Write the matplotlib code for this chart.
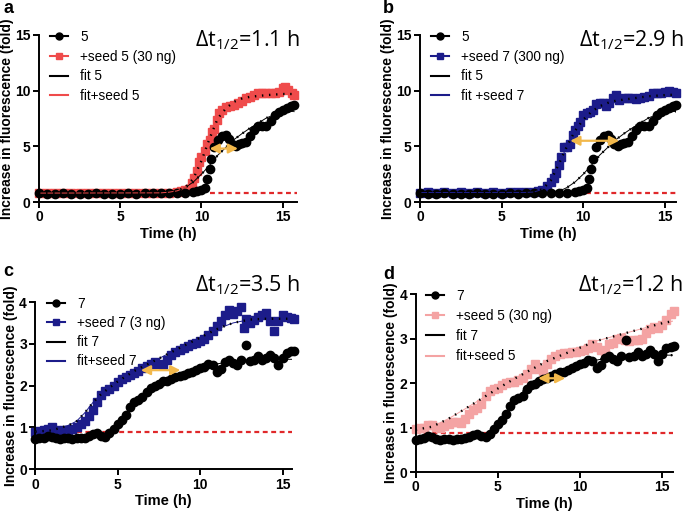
import matplotlib.pyplot as plt
from matplotlib.lines import Line2D

plt.rcParams['font.family'] = 'Liberation Sans'
plt.rcParams['axes.labelweight'] = 'bold'
plt.rcParams['mathtext.fontset'] = 'custom'
plt.rcParams['mathtext.rm'] = 'Open Sans:normal'

# ---- data ----
# construct 5 alone (panels a, b)
t5 = [0, 0.5, 1, 1.5, 2, 2.5, 3, 3.5, 4, 4.5, 5, 5.5, 6, 6.5, 7, 7.5, 8, 8.5, 9, 9.5,
      9.75, 10, 10.2, 10.35, 10.5, 10.6, 10.8, 11, 11.25, 11.5, 11.7, 11.9, 12.1, 12.3, 12.5, 12.75,
      13, 13.25, 13.5, 13.75, 14, 14.25, 14.5, 14.75, 15, 15.25, 15.5, 15.7]
y5 = [0.78, 0.76, 0.75, 0.77, 0.76, 0.75, 0.76, 0.77, 0.76, 0.75, 0.76, 0.77, 0.76, 0.77, 0.78, 0.78,
      0.8, 0.82, 0.85, 0.9,
      0.95, 1.05, 1.25, 2.1, 3.0, 3.9, 4.9, 5.6, 5.9, 6.0, 5.7, 5.2, 5.0, 5.2, 5.3, 5.4,
      5.9, 6.5, 6.8, 6.85, 6.8, 7.3, 7.8, 8.1, 8.3, 8.45, 8.6, 8.7]
# 5 + seed 5 (30 ng)
ts5 = [0, 0.5, 1, 1.5, 2, 2.5, 3, 3.5, 4, 4.5, 5, 5.5, 6, 6.5, 7, 7.5, 8, 8.5,
       8.75, 9, 9.25, 9.4, 9.55, 9.7, 9.85, 10, 10.2, 10.35, 10.5, 10.65, 10.8, 10.95, 11.1, 11.25,
       11.5, 11.75, 12, 12.25, 12.5, 12.75, 13, 13.25, 13.5, 13.75, 14, 14.25, 14.5, 14.75, 15,
       15.15, 15.35, 15.55, 15.7]
ys5 = [0.82, 0.8, 0.8, 0.81, 0.8, 0.8, 0.81, 0.8, 0.8, 0.81, 0.8, 0.8, 0.81, 0.8, 0.82, 0.82, 0.85, 0.9,
       0.95, 1.05, 1.2, 1.7, 2.2, 2.8, 3.6, 4.0, 4.6, 5.2, 5.6, 6.3, 6.6, 7.4, 8.0, 8.3,
       8.5, 8.6, 8.7, 8.9, 9.1, 9.3, 9.4, 9.6, 9.75, 9.8, 9.8, 9.75, 9.8, 9.9, 10.2,
       10.35, 10.1, 9.8, 9.6]
# 5 + seed 7 (300 ng)
ts7b = [0, 0.5, 1, 1.5, 2, 2.5, 3, 3.5, 4, 4.5, 5, 5.5, 6, 6.5,
        7, 7.25, 7.5, 7.75, 8, 8.2, 8.35, 8.5, 8.65, 8.8, 9, 9.2, 9.35, 9.5, 9.65, 9.8,
        10, 10.2, 10.4, 10.6, 10.8, 11, 11.2, 11.4, 11.6, 11.8, 12, 12.2, 12.5, 12.75,
        13, 13.25, 13.5, 13.75, 14, 14.25, 14.5, 14.75, 15, 15.25, 15.5, 15.7]
ys7b = [0.85, 0.86, 0.85, 0.86, 0.85, 0.86, 0.85, 0.86, 0.85, 0.86, 0.85, 0.86, 0.87, 0.88,
        0.9, 0.95, 1.1, 1.4, 1.8, 2.2, 2.6, 3.3, 4.0, 4.9, 4.9, 5.2, 6.0, 6.5, 6.8, 7.2,
        7.8, 8.0, 8.1, 8.3, 8.8, 8.9, 8.9, 8.6, 8.9, 9.3, 9.6, 9.2, 9.3, 9.35,
        9.3, 9.25, 9.35, 9.45, 9.5, 9.75, 9.75, 9.8, 9.9, 9.95, 9.85, 9.8]

# construct 7 alone (panels c, d)
t7 = [0, 0.25, 0.5, 0.75, 1, 1.25, 1.5, 1.75, 2, 2.25, 2.5, 2.75, 3, 3.25, 3.5, 3.75, 4, 4.25,
      4.5, 4.75, 5, 5.25, 5.5, 5.75, 6, 6.25, 6.5, 6.75, 7, 7.25, 7.5, 7.75, 8, 8.25, 8.5, 8.75,
      9, 9.25, 9.5, 9.75, 10, 10.25, 10.5, 10.75, 11, 11.25, 11.5, 11.75, 12, 12.25, 12.5,
      12.8, 13, 13.25, 13.5, 13.75, 14, 14.25, 14.5, 14.75, 15, 15.25, 15.5, 15.7]
y7 = [0.72, 0.74, 0.76, 0.8, 0.78, 0.75, 0.73, 0.74, 0.74, 0.73, 0.74, 0.75, 0.76, 0.79, 0.84, 0.86,
      0.8, 0.78, 0.86, 0.97, 1.08, 1.17, 1.3, 1.48, 1.62, 1.66, 1.72, 1.86, 1.95, 1.98, 2.05, 2.1,
      2.12, 2.17, 2.2, 2.24, 2.26, 2.3, 2.33, 2.38, 2.42, 2.45, 2.52, 2.5, 2.33, 2.4, 2.57, 2.62,
      2.55, 2.5, 2.62,
      2.97, 2.58, 2.62, 2.7, 2.62, 2.66, 2.74, 2.65, 2.5, 2.66, 2.78, 2.82, 2.84]
# 7 + seed 7 (3 ng)
ts7c = [0, 0.25, 0.5, 0.75, 1, 1.25, 1.5, 1.75, 2, 2.25, 2.5, 2.75, 3, 3.25, 3.5, 3.75, 4, 4.25,
        4.5, 4.75, 5, 5.25, 5.5, 5.75, 6, 6.25, 6.5, 6.75, 7, 7.25, 7.5, 7.75, 8, 8.25, 8.5, 8.75,
        9, 9.25, 9.5, 9.75, 10, 10.25, 10.5, 10.75, 11, 11.25, 11.5, 11.75, 12, 12.25, 12.5,
        12.65, 12.8, 13, 13.25, 13.5, 13.75, 14, 14.25, 14.5, 14.75, 15, 15.25, 15.5, 15.7]
ys7c = [0.9, 0.92, 0.95, 0.97, 1.0, 0.95, 0.92, 0.93, 0.94, 0.96, 1.01, 1.08, 1.15, 1.27, 1.42, 1.62,
        1.78, 1.88, 1.92, 2.0, 2.08, 2.15, 2.2, 2.25, 2.3, 2.35, 2.42, 2.48, 2.52, 2.56, 2.52, 2.5,
        2.62, 2.74, 2.8, 2.86, 2.9, 2.95, 3.0, 3.03, 3.07, 3.12, 3.2, 3.3, 3.42, 3.55, 3.7, 3.82,
        3.72, 3.78, 3.87,
        3.37, 3.6, 3.5, 3.58, 3.65, 3.68, 3.73, 3.55, 3.3, 3.55, 3.68, 3.65, 3.62, 3.6]
# 7 + seed 5 (30 ng)
ts5d = [0, 0.25, 0.5, 0.75, 1, 1.25, 1.5, 1.75, 2, 2.25, 2.5, 2.75, 3, 3.25, 3.5, 3.75, 4, 4.25,
        4.5, 4.75, 5, 5.25, 5.5, 5.75, 6, 6.25, 6.5, 6.75, 7, 7.25, 7.5, 7.75, 8, 8.25, 8.5, 8.75,
        9, 9.25, 9.5, 9.75, 10, 10.25, 10.5, 10.75, 11, 11.25, 11.5, 11.75, 12, 12.25, 12.5, 12.75,
        13, 13.25, 13.5, 13.75, 14, 14.25, 14.5, 14.75, 15, 15.25, 15.5, 15.7]
ys5d = [0.97, 0.98, 1.0, 1.05, 1.06, 1.02, 1.0, 1.03, 1.08, 1.13, 1.12, 1.1, 1.2, 1.3, 1.4, 1.45,
        1.52, 1.72, 1.82, 1.87, 1.89, 1.95, 2.0, 2.03, 2.03, 2.06, 2.12, 2.2, 2.32, 2.42, 2.32, 2.27,
        2.42, 2.55, 2.62, 2.65, 2.67, 2.68, 2.7, 2.71, 2.72, 2.74, 2.78, 2.88, 2.82, 2.75, 2.68, 2.88,
        2.9, 3.0, 3.02, 2.98, 2.95, 2.98, 2.97, 3.0, 3.12, 3.22, 3.27, 3.24, 3.3, 3.42, 3.55, 3.62]

# fitted curves
tf5 = [0, 7, 8, 8.5, 9, 9.5, 10, 10.5, 11, 11.5, 12, 12.5, 13, 13.5, 14, 14.5, 15, 15.7]
yf5 = [0.75, 0.76, 0.8, 0.95, 1.3, 1.8, 2.5, 3.3, 4.2, 4.9, 5.6, 6.15, 6.65, 7.1, 7.55, 7.85, 8.05, 8.15]
tfs5 = [0, 7.5, 8, 8.5, 9, 9.5, 10, 10.5, 11, 11.5, 12, 12.5, 13, 14, 15, 15.7]
yfs5 = [0.8, 0.82, 0.88, 1.0, 1.3, 2.1, 3.7, 5.7, 7.5, 8.4, 9.0, 9.3, 9.45, 9.6, 9.7, 9.7]
tfs7b = [0, 6.5, 7, 7.5, 8, 8.5, 9, 9.5, 10, 10.5, 11, 11.5, 12, 13, 14, 15, 15.7]
yfs7b = [0.85, 0.86, 0.9, 1.15, 1.9, 3.4, 5.0, 6.4, 7.4, 8.1, 8.6, 8.9, 9.1, 9.3, 9.5, 9.6, 9.65]
tf7 = [0, 3, 4, 4.5, 5, 5.5, 6, 6.5, 7, 7.5, 8, 9, 10, 11, 12, 13, 14, 15, 15.7]
yf7 = [0.75, 0.76, 0.8, 0.9, 1.1, 1.35, 1.6, 1.8, 1.97, 2.08, 2.18, 2.32, 2.43, 2.52, 2.58, 2.62, 2.63, 2.63, 2.63]
tfs7c = [0, 1, 2, 2.5, 3, 3.5, 4, 4.5, 5, 6, 7, 8, 9, 10, 11, 12, 13, 14, 15, 15.7]
yfs7c = [0.9, 0.93, 1.05, 1.15, 1.35, 1.6, 1.8, 1.95, 2.1, 2.35, 2.55, 2.75, 2.95, 3.15, 3.35, 3.5, 3.58, 3.6, 3.6, 3.6]
tfs5d = [0, 1, 2, 3, 4, 5, 6, 7, 8, 9, 10, 11, 12, 13, 14, 15, 15.7]
yfs5d = [0.95, 1.02, 1.2, 1.42, 1.65, 1.88, 2.1, 2.3, 2.5, 2.65, 2.8, 2.95, 3.05, 3.15, 3.25, 3.35, 3.4]

# half-time arrows (start, end, level), threshold lines (start, level)
arrows = [(10.5, 12.25, 4.8), (9.2, 12.2, 5.5), (6.4, 8.8, 2.37), (7.45, 9.1, 2.11)]
thresh = [(10.5, 0.85), (10.15, 0.85), (2.5, 0.9), (0.5, 0.87)]
dt_labels = ['1.1', '2.9', '3.5', '1.2']

RED = '#ef4b4b'
NAVY = '#1c1c8a'
PINK = '#f4a3a3'
ORANGE = '#f2b84b'
DASH = '#e0282a'

W, H = 687, 512
fig = plt.figure(figsize=(W / 100, H / 100), dpi=100)


def add_ax(l, r, b, t):
    return fig.add_axes([l / W, 1 - b / H, (r - l) / W, (b - t) / H])


def panel(ax, xmax, ymax, yticks, black, seeded, fitb, fits, labels, arrow, th, leg_xy, leg_sp):
    ax.plot(seeded[0], seeded[1], color=seeded[2], marker='s', ms=6, lw=0,
            clip_on=False, zorder=2)
    ax.plot(black[0], black[1], color='black', marker='o', ms=6, lw=0,
            clip_on=False, zorder=3)
    for tt, yy, c in [(fitb[0], fitb[1], 'black'), (fits[0], fits[1], seeded[2])]:
        ax.plot(tt, yy, color=c, lw=0.7, zorder=4)
        ax.plot(tt, yy, color='black', lw=1.7, ls=(0, (0.6, 2.4)), zorder=4)
    ax.plot([th[0], xmax], [th[1], th[1]], color=DASH, lw=1.6, ls=(0, (2.2, 1.6)), zorder=1)
    ax.annotate('', xy=(arrow[1], arrow[2]), xytext=(arrow[0], arrow[2]),
                arrowprops=dict(arrowstyle='<|-|>', color=ORANGE, lw=1.6, mutation_scale=14,
                                shrinkA=0, shrinkB=0), zorder=5)

    handles = [Line2D([], [], color='black', marker='o', ms=5, lw=1.5),
               Line2D([], [], color=seeded[2], marker='s', ms=5, lw=1.5),
               Line2D([], [], color='black', lw=1.5),
               Line2D([], [], color=seeded[2], lw=1.5)]
    ax.legend(handles, labels, loc='upper left', bbox_to_anchor=leg_xy, frameon=False,
              prop={'weight': 'normal', 'size': 9.8}, handlelength=1.32, handletextpad=0.88,
              labelspacing=leg_sp, borderpad=0, borderaxespad=0, numpoints=1)

    ax.set_xlim(0, xmax)
    ax.set_ylim(0, ymax)
    ax.set_xticks([0, 5, 10, 15])
    ax.set_yticks(yticks)
    ax.spines['top'].set_visible(False)
    ax.spines['right'].set_visible(False)
    for s in ['left', 'bottom']:
        ax.spines[s].set_linewidth(1.4)
    ax.tick_params(direction='out', length=4, width=1.4, labelsize=10, pad=2)
    for lbl in ax.get_xticklabels() + ax.get_yticklabels():
        lbl.set_fontweight('bold')
    ax.set_xlabel('Time (h)', fontsize=10.5, labelpad=2)
    ax.set_ylabel('Increase in fluorescence (fold)', fontsize=10, labelpad=1)


axa = add_ax(39, 297, 202, 35)
panel(axa, 15.88, 15, [0, 5, 10, 15], (t5, y5), (ts5, ys5, RED), (tf5, yf5), (tfs5, yfs5),
      ['5', '+seed 5 (30 ng)', 'fit 5', 'fit+seed 5'], arrows[0], thresh[0], (0.043, 1.03), 0.42)

axb = add_ax(420, 676, 202, 35)
panel(axb, 15.68, 15, [0, 5, 10, 15], (t5, y5), (ts7b, ys7b, NAVY), (tf5, yf5), (tfs7b, yfs7b),
      ['5', '+seed 7 (300 ng)', 'fit 5', 'fit +seed 7'], arrows[1], thresh[1], (0.043, 1.03), 0.42)

axc = add_ax(35.3, 292, 469.3, 302)
panel(axc, 15.57, 4, [0, 1, 2, 3, 4], (t7, y7), (ts7c, ys7c, NAVY), (tf7, yf7), (tfs7c, yfs7c),
      ['7', '+seed 7 (3 ng)', 'fit 7', 'fit+seed 7'], arrows[2], thresh[2], (0.046, 1.03), 0.38)

axd = add_ax(415.7, 673, 472, 294.3)
panel(axd, 15.65, 4, [0, 1, 2, 3, 4], (t7, y7), (ts5d, ys5d, PINK), (tf7, yf7), (tfs5d, yfs5d),
      ['7', '+seed 5 (30 ng)', 'fit 7', 'fit+seed 5'], arrows[3], thresh[3], (0.04, 1.03), 0.45)

# panel letters and half-time shifts
for letter, x, y in [('a', 4, 13), ('b', 383, 13), ('c', 3, 276), ('d', 383, 279)]:
    fig.text(x / W, 1 - y / H, letter, fontsize=13, fontweight='bold', va='baseline')
for lab, x, y in zip(dt_labels, [195, 579, 195, 578], [46, 46, 291, 291]):
    fig.text(x / W, 1 - y / H, 'Δt$_\\mathrm{1/2}$=' + lab + ' h', fontsize=15.5,
             family='Open Sans', fontweight='normal', va='baseline')

fig.savefig('out.png', dpi=100)
